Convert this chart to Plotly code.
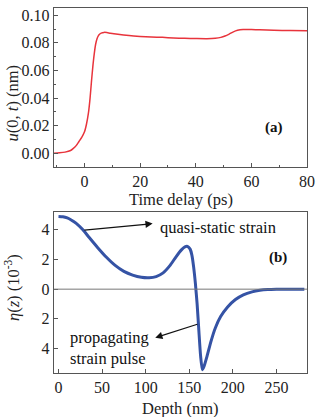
import plotly.graph_objects as go

# Panel (a): surface displacement vs time delay
t_ps = [-11, -9, -7, -5, -4, -3, -2, -1, 0, 0.7, 1.4, 2.0, 2.5, 3, 3.5, 4, 4.5, 5, 5.5, 6, 7, 8, 9.3, 12, 16, 20, 24, 28, 32, 36, 40, 44, 47, 49, 50.5, 52, 53.5, 55, 57, 60, 63, 68, 74, 80]
u_nm = [0.0, 0.0003, 0.0008, 0.002, 0.0035, 0.0055, 0.0085, 0.0115, 0.0155, 0.021, 0.029, 0.040, 0.052, 0.063, 0.072, 0.079, 0.0830, 0.0852, 0.0864, 0.0871, 0.0876, 0.0875, 0.0870, 0.0862, 0.0853, 0.0847, 0.0843, 0.0840, 0.0836, 0.0833, 0.0831, 0.0830, 0.0833, 0.0840, 0.0850, 0.0864, 0.0880, 0.0891, 0.0897, 0.0897, 0.0895, 0.0892, 0.0889, 0.0888]

# Panel (b): strain profile vs depth
depth_nm = [0, 5, 10, 15, 20, 28, 35, 45, 55, 65, 75, 85, 95, 104, 112, 120, 128, 135, 141, 145, 148, 151, 153, 155, 157, 159, 161, 163, 165, 167, 170, 175, 180, 186, 194, 203, 212, 222, 231, 240, 250, 260, 270, 282]
eta = [4.9, 4.88, 4.8, 4.65, 4.45, 4.0, 3.5, 2.8, 2.15, 1.6, 1.2, 0.95, 0.8, 0.77, 0.85, 1.1, 1.6, 2.2, 2.65, 2.85, 2.88, 2.7, 2.3, 1.5, 0.4, -1.0, -2.8, -4.5, -5.43, -5.2, -4.6, -3.5, -2.6, -1.85, -1.2, -0.7, -0.38, -0.18, -0.08, -0.03, -0.01, 0.0, 0.0, 0.0]

b_ticks = [-4, -2, 0, 2, 4]
b_ticktext = ["4", "2", "0", "2", "4"]

FONT = "Liberation Serif"
AX = "#555555"

fig = go.Figure()
fig.add_trace(go.Scatter(x=t_ps, y=u_nm, mode="lines", line=dict(color="#e8343c", width=1.5, shape="spline", smoothing=0.6), xaxis="x", yaxis="y", showlegend=False))
fig.add_trace(go.Scatter(x=depth_nm, y=eta, mode="lines", line=dict(color="#3553a5", width=3, shape="spline", smoothing=0.6), xaxis="x2", yaxis="y2", showlegend=False))

common = dict(showline=True, mirror=True, linecolor=AX, linewidth=1, ticks="inside", ticklen=4, tickcolor=AX, showgrid=False, zeroline=False,
              ticklabeloverflow="allow", tickfont=dict(family=FONT, size=16, color="#222"))
TF = dict(family=FONT, size=16.5, color="#222")

def py(px):
    return 1 - px / 417

C = dict(xref="paper", yref="paper", xanchor="center", yanchor="middle", showarrow=False, font=TF)

fig.update_layout(
    width=320, height=417,
    margin=dict(l=0, r=0, t=0, b=0),
    paper_bgcolor="white", plot_bgcolor="white",
    xaxis=dict(domain=[55/320, 315/320], range=[-11.1, 80.01], tickvals=[0, 20, 40, 60, 80], anchor="y",
               minor=dict(ticks="inside", ticklen=2, dtick=10, tickcolor=AX), **common),
    yaxis=dict(domain=[py(166), py(7)], range=[-0.0097, 0.1053], tickvals=[0, 0.02, 0.04, 0.06, 0.08, 0.10], tickformat=".2f", anchor="x",
               minor=dict(ticks="inside", ticklen=2, dtick=0.01, tickcolor=AX), **common),
    xaxis2=dict(domain=[55/320, 315/320], range=[-5.6, 285.2], tickvals=[0, 50, 100, 150, 200, 250], anchor="y2", **common),
    yaxis2=dict(domain=[py(373), py(211.7)], range=[-5.66, 5.19], tickvals=b_ticks, ticktext=b_ticktext, anchor="x2", **common),
    shapes=[dict(type="line", xref="x2", yref="y2", x0=-5.6, x1=285.2, y0=0, y1=0, line=dict(color="#777777", width=1))],
    annotations=[
        # axis titles
        dict(text="Time delay (ps)", x=186/320, y=py(199), **C),
        dict(text="<i>u</i>(0, <i>t</i>) (nm)", x=13/320, y=py(102), textangle=-90, **C),
        dict(text="Depth (nm)", x=185/320, y=py(408), **C),
        dict(text="<i>η</i>(<i>z</i>) (10<sup>-3</sup>)", x=13/320, y=py(287), textangle=-90, **C),
        # panel labels
        dict(text="<b>(a)</b>", x=68, y=0.019, xref="x", yref="y", xanchor="center", yanchor="middle", showarrow=False, font=dict(family=FONT, size=15, color="#111")),
        dict(text="<b>(b)</b>", x=252, y=2.15, xref="x2", yref="y2", xanchor="center", yanchor="middle", showarrow=False, font=dict(family=FONT, size=15, color="#111")),
        dict(text="quasi-static strain", x=114, y=4.15, xref="x2", yref="y2", xanchor="left", yanchor="middle", showarrow=False, font=dict(family=FONT, size=16.5, color="#111")),
        dict(text="", x=108, y=4.42, ax=28, ay=3.97, xref="x2", yref="y2", axref="x2", ayref="y2", showarrow=True, arrowhead=2, arrowsize=1.2, arrowwidth=1.2, arrowcolor="#111"),
        dict(text="propagating<br>strain pulse", x=11, y=-3.95, xref="x2", yref="y2", xanchor="left", yanchor="middle", align="left", showarrow=False, font=dict(family=FONT, size=16.5, color="#111")),
        dict(text="", x=111, y=-3.27, ax=161, ay=-2.33, xref="x2", yref="y2", axref="x2", ayref="y2", showarrow=True, arrowhead=2, arrowsize=1.2, arrowwidth=1.2, arrowcolor="#111"),
    ],
)

fig.write_html("out.html")
